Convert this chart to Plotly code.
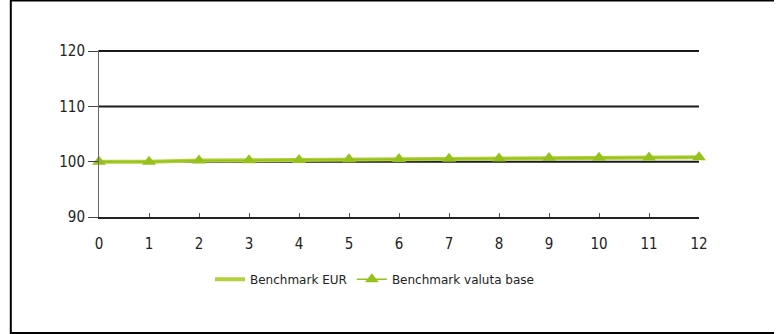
import plotly.graph_objects as go

# Dati
mesi = list(range(0, 13))
benchmark_eur = [100.0, 100.0, 100.2, 100.25, 100.3, 100.45, 100.5, 100.55, 100.6, 100.65, 100.7, 100.75, 100.8]
benchmark_valuta_base = [100.0, 100.0, 100.2, 100.25, 100.3, 100.45, 100.5, 100.55, 100.6, 100.65, 100.7, 100.75, 100.8]
y_ticks = [90, 100, 110, 120]

font_narrow = "DejaVu Sans Condensed, Liberation Sans Narrow, sans-serif"

fig = go.Figure()
fig.add_trace(go.Scatter(x=mesi, y=benchmark_eur, mode="lines", name="Benchmark EUR",
                         line=dict(color="#b3d13c", width=4), cliponaxis=False))
fig.add_trace(go.Scatter(x=mesi, y=benchmark_valuta_base, mode="lines+markers", name="Benchmark valuta base",
                         line=dict(color="#94c11a", width=1.5),
                         marker=dict(symbol="triangle-up", size=12, color="#94c11a"), cliponaxis=False))

# Linee di griglia nere (sotto le serie)
for v in y_ticks[1:]:
    fig.add_shape(type="line", xref="x", yref="y", x0=0, x1=12, y0=v, y1=v,
                  line=dict(color="#1a1a1a", width=2), layer="below")

# Cornice esterna (alto, sinistra, basso)
bordo = dict(color="black", width=2)
fig.add_shape(type="line", xref="paper", yref="paper", x0=-0.147, x1=1.125, y0=1.297, y1=1.297, line=bordo)
fig.add_shape(type="line", xref="paper", yref="paper", x0=-0.147, x1=-0.147, y0=-0.70, y1=1.31, line=bordo)
fig.add_shape(type="line", xref="paper", yref="paper", x0=-0.147, x1=1.125, y0=-0.695, y1=-0.695, line=bordo)

fig.update_layout(
    width=776, height=334,
    margin=dict(l=99, r=77, t=50, b=117),
    paper_bgcolor="white", plot_bgcolor="white",
    font=dict(family=font_narrow, color="#222222"),
    xaxis=dict(range=[0, 12], tickmode="array", tickvals=mesi, showgrid=False, zeroline=False,
               showline=True, linecolor="#222222", linewidth=2,
               ticks="inside", ticklen=4, tickcolor="#555555", ticklabelstandoff=12,
               tickfont=dict(size=15, family=font_narrow, color="#222222")),
    yaxis=dict(range=[90, 120.2], tickmode="array", tickvals=y_ticks, showgrid=False, zeroline=False,
               showline=True, linecolor="#666666", linewidth=1,
               ticks="outside", ticklen=10, tickcolor="#444444",
               tickfont=dict(size=15, family=font_narrow, color="#222222")),
    legend=dict(orientation="h", x=0.185, y=-0.373, xanchor="left", yanchor="middle",
                font=dict(size=12, family="DejaVu Sans, sans-serif", color="#222222"),
                itemwidth=30, tracegroupgap=0),
    showlegend=True,
)

fig.write_html("out.html", config={"displayModeBar": False},
               post_script="document.body.style.margin='0';")
